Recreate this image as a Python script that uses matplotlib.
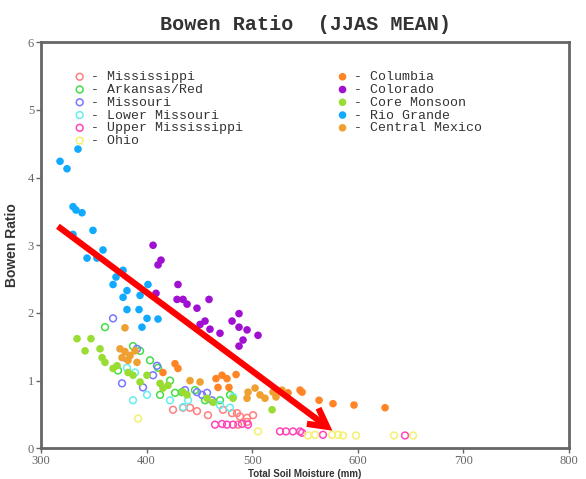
import matplotlib
matplotlib.use("Agg")
import matplotlib.pyplot as plt

# ---- data (Total soil moisture [mm], Bowen ratio) ----
mississippi_x = [425.0, 434.5, 441.1, 447.7, 472.3, 480.9, 485.6, 488.4, 495.1, 500.8, 486.6, 495.1, 458.1]
mississippi_y = [0.57, 0.60, 0.60, 0.55, 0.57, 0.52, 0.52, 0.47, 0.45, 0.49, 0.35, 0.39, 0.49]

arkansas_x = [360.6, 387.1, 393.8, 403.2, 410.8, 422.2, 433.5, 445.8, 455.3, 469.5, 479.0, 412.7, 426.9, 372.9]
arkansas_y = [1.79, 1.51, 1.44, 1.30, 1.19, 1.00, 0.83, 0.86, 0.71, 0.71, 0.79, 0.79, 0.82, 1.15]

missouri_x = [368.2, 390.9, 379.5, 376.7, 396.6, 406.1, 409.8, 447.7, 452.5, 457.2, 461.9, 436.4]
missouri_y = [1.92, 1.47, 1.34, 0.96, 0.90, 1.08, 1.22, 0.83, 0.79, 0.82, 0.71, 0.86]

lowmo_x = [387.1, 400.4, 381.4, 389.0, 422.2, 469.5, 478.9, 481.8, 439.2, 434.5]
lowmo_y = [0.71, 0.79, 1.19, 1.12, 0.71, 0.64, 0.60, 0.76, 0.71, 0.61]

upmiss_x = [464.8, 471.4, 476.1, 481.8, 490.3, 496.0, 526.3, 532.0, 538.6, 545.3, 547.2, 567.0, 644.7]
upmiss_y = [0.35, 0.36, 0.35, 0.35, 0.36, 0.35, 0.25, 0.25, 0.25, 0.25, 0.23, 0.20, 0.19]

ohio_x = [391.9, 505.5, 552.8, 559.5, 575.6, 581.3, 586.0, 598.3, 634.3, 652.3]
ohio_y = [0.44, 0.25, 0.19, 0.20, 0.20, 0.20, 0.19, 0.19, 0.19, 0.19]

columbia_x = [415.5, 426.9, 429.7, 465.7, 471.4, 467.6, 476.1, 478.0, 484.7, 533.9, 545.3, 547.2, 563.3, 576.5, 596.4, 625.8]
columbia_y = [1.12, 1.25, 1.18, 1.03, 1.08, 0.90, 1.03, 0.90, 1.09, 0.82, 0.86, 0.83, 0.71, 0.66, 0.64, 0.60]

colorado_x = [406.1, 413.6, 410.8, 429.7, 408.9, 428.8, 434.5, 438.3, 447.7, 459.1, 455.3, 450.6, 460.0, 469.5, 480.9, 487.5, 487.5, 495.1, 505.5, 491.3, 487.5]
colorado_y = [3.00, 2.78, 2.71, 2.42, 2.29, 2.20, 2.20, 2.13, 2.07, 2.20, 1.88, 1.83, 1.76, 1.70, 1.88, 1.99, 1.79, 1.75, 1.67, 1.60, 1.51]

monsoon_x = [334.1, 347.3, 341.7, 355.9, 357.8, 360.6, 368.2, 372.0, 382.4, 387.1, 393.8, 400.4, 412.7, 415.5, 420.3, 434.5, 438.3, 457.2, 462.9, 481.8, 518.8]
monsoon_y = [1.62, 1.62, 1.44, 1.47, 1.34, 1.27, 1.18, 1.22, 1.12, 1.08, 0.98, 1.08, 0.96, 0.89, 0.93, 0.83, 0.79, 0.74, 0.68, 0.74, 0.57]

riogrande_x = [318.0, 324.6, 335.0, 330.3, 333.1, 338.8, 330.3, 349.2, 358.7, 343.6, 353.0, 377.7, 371.0, 368.2, 381.4, 377.7, 393.8, 401.3, 381.4, 392.8, 400.4, 410.8, 395.6]
riogrande_y = [4.24, 4.13, 4.42, 3.57, 3.52, 3.48, 3.16, 3.22, 2.93, 2.81, 2.81, 2.63, 2.53, 2.42, 2.33, 2.23, 2.26, 2.42, 2.05, 2.05, 1.92, 1.91, 1.79]

cmexico_x = [379.5, 374.8, 379.5, 384.3, 389.0, 382.4, 390.9, 376.7, 441.1, 450.6, 496.0, 502.7, 507.4, 495.1, 512.1, 519.7, 522.5, 528.2]
cmexico_y = [1.78, 1.47, 1.43, 1.37, 1.44, 1.30, 1.27, 1.34, 1.00, 0.98, 0.83, 0.89, 0.79, 0.74, 0.74, 0.83, 0.76, 0.86]

arrow_start = (316.0, 3.28)
arrow_end = (576.0, 0.26)

open_series = [
    ("Mississippi", mississippi_x, mississippi_y, "#ff7f7f"),
    ("Arkansas/Red", arkansas_x, arkansas_y, "#44dd44"),
    ("Missouri", missouri_x, missouri_y, "#7777ff"),
    ("Lower Missouri", lowmo_x, lowmo_y, "#66eeee"),
    ("Upper Mississippi", upmiss_x, upmiss_y, "#ff44bb"),
    ("Ohio", ohio_x, ohio_y, "#f5f070"),
]
filled_series = [
    ("Columbia", columbia_x, columbia_y, "#ff8426"),
    ("Colorado", colorado_x, colorado_y, "#a010d0"),
    ("Core Monsoon", monsoon_x, monsoon_y, "#99dd33"),
    ("Rio Grande", riogrande_x, riogrande_y, "#11aaff"),
    ("Central Mexico", cmexico_x, cmexico_y, "#f0a030"),
]

fig = plt.figure(figsize=(5.86, 4.79), dpi=100)
ax = fig.add_axes([0.070, 0.064, 0.901, 0.848])

handles = []
for name, xs, ys, c in open_series:
    h = ax.scatter(xs, ys, s=24, facecolors="none", edgecolors=c, linewidths=1.1,
                   label="- " + name, zorder=3)
    handles.append(h)
for name, xs, ys, c in filled_series:
    h = ax.scatter(xs, ys, s=30, color=c, edgecolors="none", label="- " + name, zorder=3)
    handles.append(h)

ax.annotate("", xy=arrow_end, xytext=arrow_start,
            arrowprops=dict(arrowstyle="->,head_length=1.3,head_width=0.7",
                            color="#ff0000", lw=4.5, shrinkA=0, shrinkB=0,
                            joinstyle="miter", capstyle="butt"),
            zorder=5)

ax.set_xlim(300, 800)
ax.set_ylim(0, 6)
ax.set_xticks([300, 400, 500, 600, 700, 800])
ax.set_yticks([0, 1, 2, 3, 4, 5, 6])

for sp in ax.spines.values():
    sp.set_linewidth(2.0)
    sp.set_color("#666666")
ax.tick_params(direction="out", length=3.5, width=1, color="#666666",
               labelsize=9, labelcolor="#666666", pad=1.5)
for lab in ax.get_xticklabels() + ax.get_yticklabels():
    lab.set_family("Liberation Serif")

ax.set_title("Bowen Ratio  (JJAS MEAN)", family="Liberation Mono", fontsize=14.5,
             fontweight="bold", color="#333333", pad=9)
ax.set_ylabel("Bowen Ratio", family="Liberation Sans", fontsize=10,
              fontweight="bold", color="#333333", labelpad=6)
fig.text(0.52, 0.0, "Total Soil Moisture (mm)", family="Liberation Sans", fontsize=7,
         fontweight="bold", color="#333333", ha="center", va="bottom")

leg = ax.legend(handles=handles, ncol=2, loc="upper left", bbox_to_anchor=(0.052, 0.942),
                frameon=False, prop={"family": "Liberation Mono", "size": 9.5},
                handletextpad=0.4, columnspacing=7.1, labelspacing=0.04,
                handlelength=0.9, borderaxespad=0)
for t in leg.get_texts():
    t.set_color("#333333")

fig.savefig("out.png", dpi=100)
